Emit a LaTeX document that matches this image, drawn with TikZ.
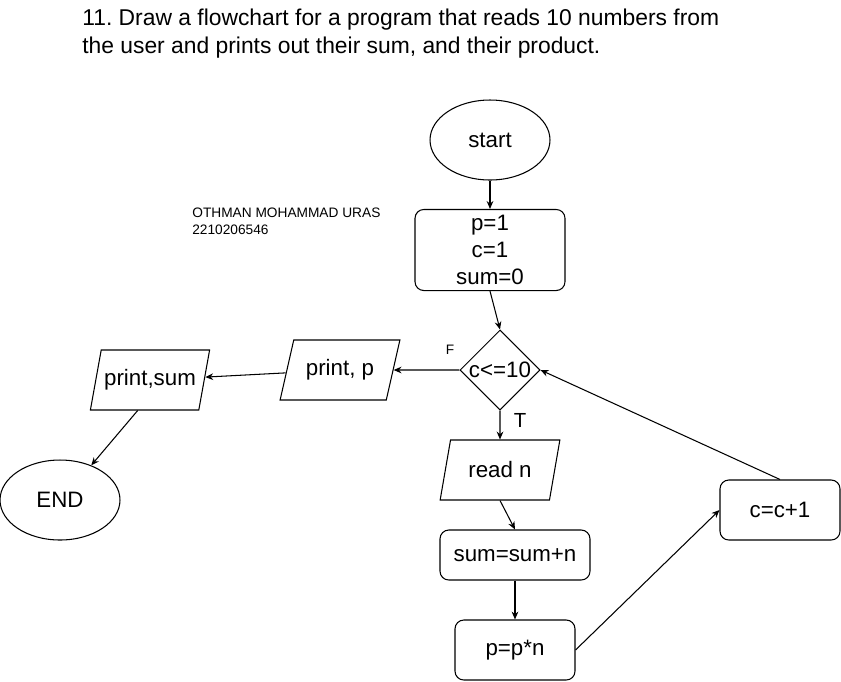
\documentclass[tikz,border=0pt]{standalone}
\usepackage{fontspec}
\setmainfont{Liberation Sans}
\usetikzlibrary{shapes.geometric, arrows.meta}
\frenchspacing

\begin{document}
\begin{tikzpicture}[
    x=0.02cm, y=-0.02cm,
    % Node styles
    terminal/.style={
        ellipse,
        draw=black,
        line width=0.6pt,
        minimum width=2.4cm,
        minimum height=1.6cm,
        font=\fontsize{12.7}{15.3}\selectfont
    },
    procbox/.style={
        rectangle,
        rounded corners=5pt,
        draw=black,
        line width=0.6pt,
        minimum width=2.4cm,
        minimum height=1.2cm,
        align=center,
        font=\fontsize{12.7}{15.3}\selectfont
    },
    iobox/.style={
        trapezium,
        trapezium left angle=72,
        trapezium right angle=108,
        trapezium stretches=true,
        draw=black,
        line width=0.6pt,
        minimum width=2.4cm,
        minimum height=1.2cm,
        inner xsep=1pt,
        font=\fontsize{12.7}{15.3}\selectfont
    },
    decision/.style={
        diamond,
        aspect=1,
        draw=black,
        line width=0.6pt,
        minimum width=1.6cm,
        minimum height=1.6cm,
        inner sep=0pt,
        font=\fontsize{12.7}{15.3}\selectfont
    },
    arrow/.style={
        -{Stealth[length=4.5pt, width=3.8pt]},
        line width=0.6pt,
        black
    }
]
\useasboundingbox (0,0) rectangle (841,681);

% === Task text ===
\node[anchor=north west, align=left, inner sep=0pt, font=\fontsize{13}{15.9}\selectfont] (task) at (82,9)
    {11. Draw a flowchart for a program that reads 10 numbers from\\the user and prints out their sum, and their product.};
\node[anchor=north west, align=left, inner sep=0pt, font=\fontsize{7.8}{9.6}\selectfont] (author) at (192,208)
    {OTHMAN MOHAMMAD URAS\\2210206546};

% === Main column ===
\node[terminal] (start) at (490,140) {start};
\node[procbox, minimum width=3cm, minimum height=1.6cm] (init) at (490,250) {p=1\\c=1\\sum=0};
\node[decision] (cond) at (500,370) {c<=10};
\node[iobox, trapezium left angle=76, trapezium right angle=104] (readn) at (500,470) {read n};
\node[procbox, minimum width=3cm, minimum height=1cm] (sumbox) at (515,555) {sum=sum+n};
\node[procbox] (prodbox) at (515,650) {p=p*n};
\node[procbox] (incr) at (780,510) {c=c+1};

% === Output branch (left) ===
\node[iobox] (printp) at (340,370) {print, p};
\node[iobox] (printsum) at (150,380) {print,sum};
\node[terminal] (stop) at (60,500) {END};

% Branch labels
\node[font=\fontsize{7.8}{9.6}\selectfont] (flabel) at (450,350) {F};
\node[font=\fontsize{11.6}{13.6}\selectfont] (tlabel) at (520,420) {T};

% === Arrows ===
\draw[arrow] (start) -- (init);
\draw[arrow] (init.south) -- (cond.north);
\draw[arrow] (cond.south) -- (readn.south |- readn.north);
\draw[arrow] (readn.south) -- (sumbox.north);
\draw[arrow] (sumbox) -- (prodbox);
\draw[arrow] (prodbox.east) -- (incr.west);
\draw[arrow] (incr.north) -- (cond.east);
\draw[arrow] (cond.west) -- (printp.east);
\draw[arrow] (printp) -- (printsum);
\draw[arrow] (printsum.248) -- (stop.48);

\end{tikzpicture}
\end{document}
